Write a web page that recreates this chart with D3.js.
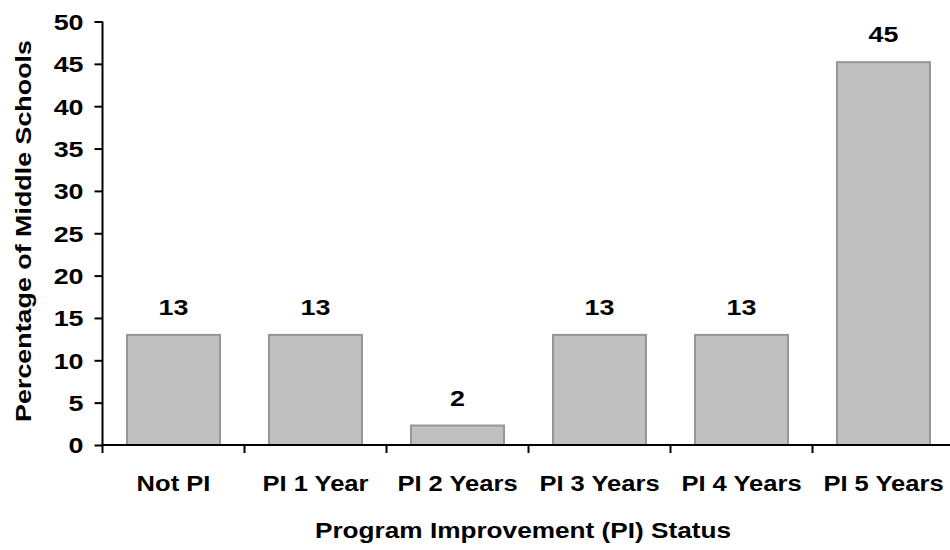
<!DOCTYPE html>
<html>
<head>
<meta charset="utf-8">
<script src="https://cdn.jsdelivr.net/npm/d3@7"></script>
<style>
  html, body { margin: 0; padding: 0; background: #fff; }
  text { font-family: "Liberation Sans", Arial, sans-serif; font-weight: bold; fill: #000; }
</style>
</head>
<body>
<svg id="chart" width="950" height="550"></svg>
<script>
const categories = ["Not PI", "PI 1 Year", "PI 2 Years", "PI 3 Years", "PI 4 Years", "PI 5 Years"];
const values = [13, 13, 2.3, 13, 13, 45.2];
const valueLabels = ["13", "13", "2", "13", "13", "45"];
const yTicks = [0, 5, 10, 15, 20, 25, 30, 35, 40, 45, 50];
const xTitle = "Program Improvement (PI) Status";
const yTitle = "Percentage of Middle Schools";

const svg = d3.select("#chart");
const mLeft = 102.5, mRight = 954.5, mTop = 21.5, mBottom = 445;
const FS = 22, STRETCH = 1.16, NUM_STRETCH = 1.22;

const x = d3.scaleBand().domain(categories).range([mLeft, mRight]).paddingInner(0.345).paddingOuter(0.1725);
const xb = d3.scaleLinear().domain([0, categories.length]).range([mLeft, mRight]);
const y = d3.scaleLinear().domain([0, 50]).range([mBottom, mTop]);

function stretch(sel, f) {
  sel.each(function() {
    const len = this.getComputedTextLength();
    d3.select(this).attr("textLength", len * f).attr("lengthAdjust", "spacingAndGlyphs");
  });
}

// bars
svg.append("g").selectAll("rect").data(values).join("rect")
  .attr("x", (d, i) => x(categories[i]))
  .attr("y", d => y(d))
  .attr("width", x.bandwidth())
  .attr("height", d => y(0) - y(d))
  .attr("fill", "#c0c0c0")
  .attr("stroke", "#969696")
  .attr("stroke-width", 2);

// value labels
svg.append("g").selectAll("text").data(values).join("text")
  .attr("x", (d, i) => x(categories[i]) + x.bandwidth() / 2)
  .attr("y", d => y(d) - 20)
  .attr("text-anchor", "middle")
  .attr("font-size", FS)
  .text((d, i) => valueLabels[i])
  .call(stretch, NUM_STRETCH);

// y axis
const yAxis = svg.append("g").attr("transform", `translate(${mLeft},0)`)
  .call(d3.axisLeft(y).tickValues(yTicks).tickSize(8).tickPadding(11).tickFormat(d3.format("d")));
yAxis.attr("font-family", null).attr("font-size", null);
yAxis.select(".domain").attr("stroke", "#000").attr("stroke-width", 2).attr("d", `M0,${mTop}V${mBottom}`);
yAxis.selectAll(".tick line").attr("stroke", "#000").attr("stroke-width", 2);
yAxis.selectAll(".tick text").attr("font-size", FS).attr("dy", "0.36em")
  .call(stretch, NUM_STRETCH);

// x axis line
svg.append("line").attr("x1", mLeft - 1).attr("x2", 950).attr("y1", mBottom).attr("y2", mBottom)
  .attr("stroke", "#000").attr("stroke-width", 2);
// x tick marks at category boundaries
svg.append("g").selectAll("line").data(d3.range(categories.length + 1)).join("line")
  .attr("x1", d => xb(d)).attr("x2", d => xb(d))
  .attr("y1", mBottom).attr("y2", mBottom + 8)
  .attr("stroke", "#000").attr("stroke-width", 2);

// x labels
svg.append("g").selectAll("text").data(categories).join("text")
  .attr("x", d => x(d) + x.bandwidth() / 2)
  .attr("y", 491)
  .attr("text-anchor", "middle")
  .attr("font-size", FS)
  .text(d => d)
  .call(stretch, STRETCH);

// x title
svg.append("text").attr("x", 523).attr("y", 538).attr("text-anchor", "middle")
  .attr("font-size", FS).text(xTitle).call(stretch, 1.19);

// y title
svg.append("text").attr("transform", "translate(31,231) rotate(-90)")
  .attr("text-anchor", "middle").attr("font-size", FS).text(yTitle).call(stretch, 1.22);
</script>
</body>
</html>
